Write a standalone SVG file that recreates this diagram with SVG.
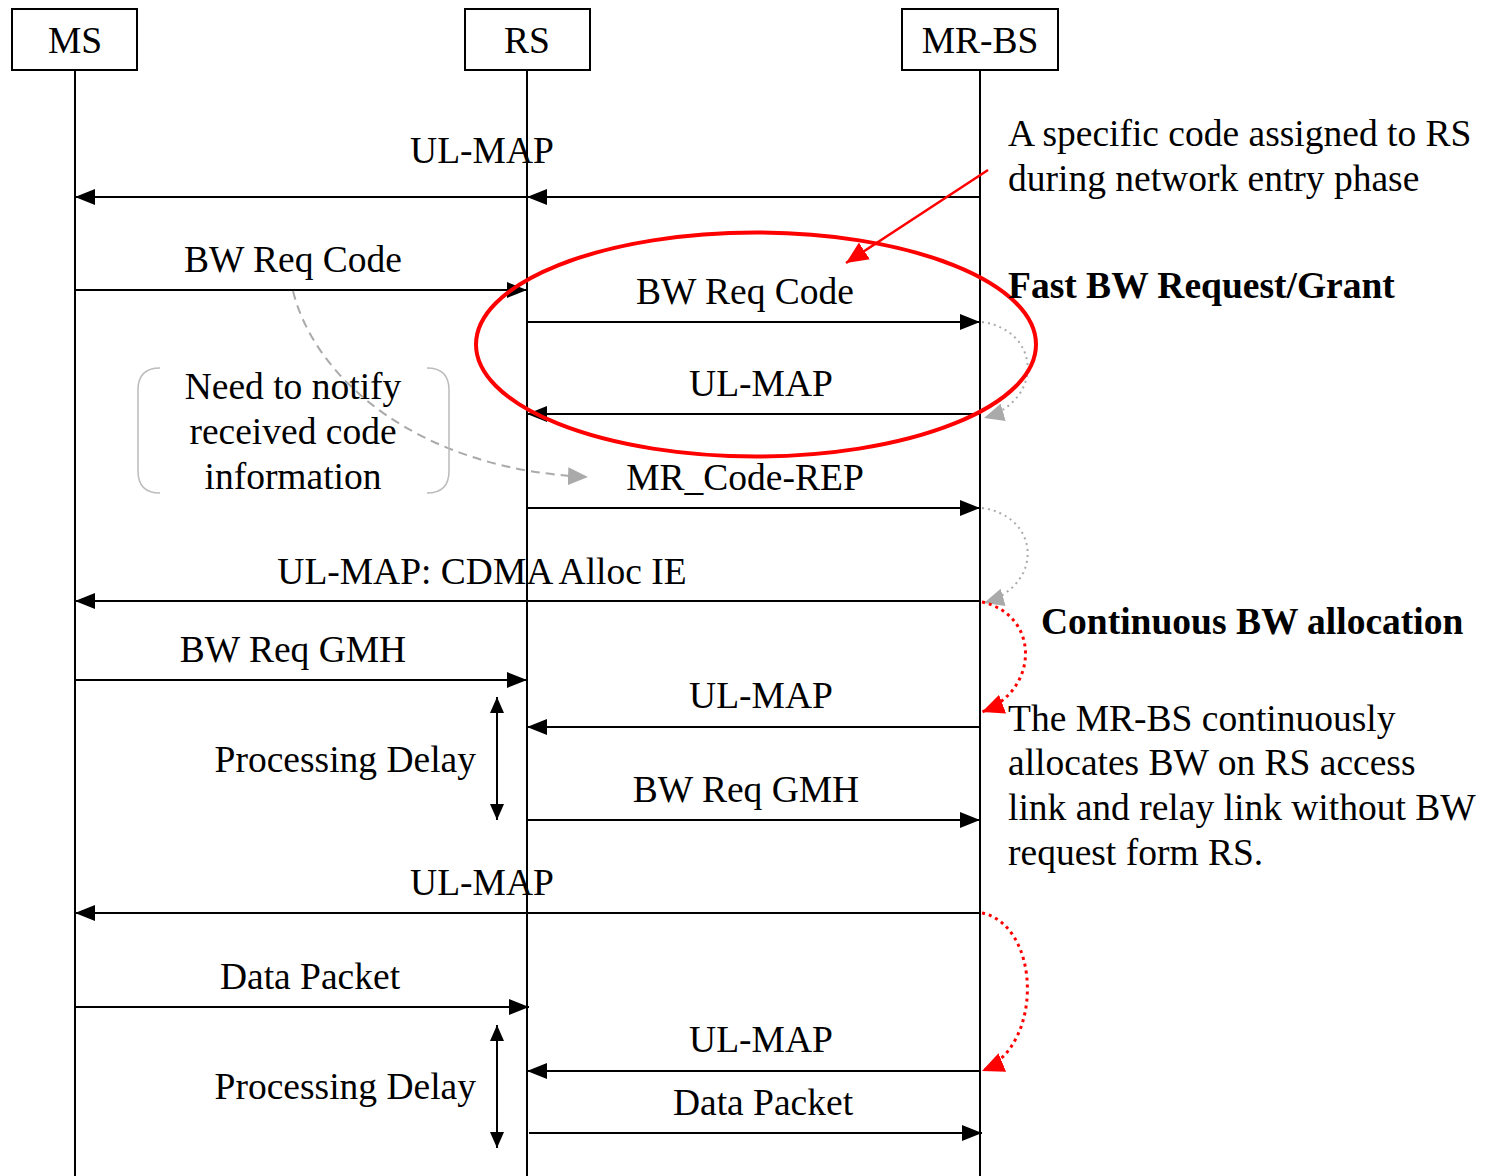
<svg xmlns="http://www.w3.org/2000/svg" width="1487" height="1176" viewBox="0 0 1487 1176">
<style>
text{font-family:"Liberation Serif","Times New Roman",serif;font-size:37.5px;fill:#000}
.c{text-anchor:middle}
.b{font-weight:bold}
.box{fill:#fff;stroke:#000;stroke-width:2}
.life{stroke:#000;stroke-width:2;fill:none}
.msg{stroke:#000;stroke-width:2;fill:none;marker-end:url(#ah)}
.gd{stroke:#aaa;stroke-width:2;fill:none;stroke-dasharray:2 4;marker-end:url(#gh)}
.rd{stroke:#f00;stroke-width:3;fill:none;stroke-dasharray:3 4;marker-end:url(#rh)}
</style>
<defs>
<marker id="ah" markerUnits="userSpaceOnUse" markerWidth="22" markerHeight="16" refX="20" refY="8" orient="auto"><path d="M0,0 L20,8 L0,16 Z" fill="#000"/></marker>
<marker id="gh" markerUnits="userSpaceOnUse" markerWidth="22" markerHeight="18" refX="20" refY="9" orient="auto"><path d="M0,0 L20,9 L0,18 Z" fill="#aaa"/></marker>
<marker id="rh" markerUnits="userSpaceOnUse" markerWidth="24" markerHeight="20" refX="22" refY="10" orient="auto"><path d="M0,0 L22,10 L0,20 Z" fill="#f00"/></marker>
<marker id="rha" markerUnits="userSpaceOnUse" markerWidth="24" markerHeight="20" refX="22" refY="10" orient="auto"><path d="M0,0 L22,10 L0,20 Z" fill="#f00"/></marker>
<marker id="dh" markerUnits="userSpaceOnUse" markerWidth="16" markerHeight="14" refX="16" refY="7" orient="auto-start-reverse"><path d="M0,0 L16,7 L0,14 Z" fill="#000"/></marker>
</defs>

<g id="node-ms">
<rect class="box" x="12" y="9" width="125" height="61"/>
<text class="c" x="75" y="53">MS</text>
</g>
<g id="node-rs">
<rect class="box" x="465" y="9" width="125" height="61"/>
<text class="c" x="527" y="53">RS</text>
</g>
<g id="node-mrbs">
<rect class="box" x="902" y="9" width="156" height="61"/>
<text class="c" x="980" y="53">MR-BS</text>
</g>

<g id="lifelines">
<line class="life" x1="75" y1="70" x2="75" y2="1176"/>
<line class="life" x1="527" y1="70" x2="527" y2="1176"/>
<line class="life" x1="980" y1="70" x2="980" y2="1176"/>
</g>

<g id="connectors">
<line class="msg" x1="980" y1="197" x2="527" y2="197"/>
<line class="msg" x1="527" y1="197" x2="75" y2="197"/>
<line class="msg" x1="75" y1="290" x2="527" y2="290"/>
<line class="msg" x1="527" y1="322" x2="980" y2="322"/>
<line class="msg" x1="980" y1="414" x2="527" y2="414"/>
<line class="msg" x1="527" y1="508" x2="980" y2="508"/>
<line class="msg" x1="980" y1="601" x2="75" y2="601"/>
<line class="msg" x1="75" y1="680" x2="527" y2="680"/>
<line class="msg" x1="980" y1="727" x2="527" y2="727"/>
<line class="msg" x1="527" y1="820" x2="980" y2="820"/>
<line class="msg" x1="980" y1="913" x2="75" y2="913"/>
<line class="msg" x1="75" y1="1007" x2="529" y2="1007"/>
<line class="msg" x1="980" y1="1071" x2="527" y2="1071"/>
<line class="msg" x1="529" y1="1133" x2="982" y2="1133"/>
<line stroke="#000" stroke-width="2" x1="497" y1="697" x2="497" y2="820" marker-start="url(#dh)" marker-end="url(#dh)"/>
<line stroke="#000" stroke-width="2" x1="497" y1="1025" x2="497" y2="1148" marker-start="url(#dh)" marker-end="url(#dh)"/>
<path class="gd" d="M982,322 C1040,330 1045,400 984,418"/>
<path class="gd" d="M982,508 C1040,516 1045,585 984,603"/>
<path class="rd" d="M982,602 C1040,615 1040,690 982,712"/>
<path class="rd" d="M982,913 C1040,925 1045,1045 982,1071"/>
<path d="M293,291 C315,380 420,470 588,477" stroke="#aaa" stroke-width="2" fill="none" stroke-dasharray="9 6" marker-end="url(#gh)"/>
<ellipse cx="756" cy="344.5" rx="280" ry="112" fill="none" stroke="#f00" stroke-width="4"/>
<line x1="988" y1="170" x2="846" y2="263" stroke="#f00" stroke-width="2.5" marker-end="url(#rha)"/>
</g>

<g id="note-bracket">
<path d="M160,368 Q138,368 138,390 L138,471 Q138,493 160,493" fill="none" stroke="#bbb" stroke-width="1.5"/>
<path d="M427,368 Q449,368 449,390 L449,471 Q449,493 427,493" fill="none" stroke="#bbb" stroke-width="1.5"/>
<text class="c" x="293" y="399">Need to notify</text>
<text class="c" x="293" y="444">received code</text>
<text class="c" x="293" y="489">information</text>
</g>

<g id="labels">
<text class="c" x="482" y="163">UL-MAP</text>
<text class="c" x="293" y="272">BW Req Code</text>
<text class="c" x="745" y="304">BW Req Code</text>
<text class="c" x="761" y="396">UL-MAP</text>
<text class="c" x="745" y="490">MR_Code-REP</text>
<text class="c" x="482" y="584">UL-MAP: CDMA Alloc IE</text>
<text class="c" x="293" y="662">BW Req GMH</text>
<text class="c" x="761" y="708">UL-MAP</text>
<text class="c" x="746" y="802">BW Req GMH</text>
<text class="c" x="482" y="895">UL-MAP</text>
<text class="c" x="310" y="989">Data Packet</text>
<text class="c" x="761" y="1052">UL-MAP</text>
<text class="c" x="763" y="1115">Data Packet</text>
<text x="476" y="772" text-anchor="end">Processing Delay</text>
<text x="476" y="1099" text-anchor="end">Processing Delay</text>
</g>

<g id="notes">
<text x="1008" y="146">A specific code assigned to RS</text>
<text x="1008" y="191">during network entry phase</text>
<text class="b" x="1008" y="298">Fast BW Request/Grant</text>
<text class="b" x="1041" y="634">Continuous BW allocation</text>
<text x="1008" y="731">The MR-BS continuously</text>
<text x="1008" y="775">allocates BW on RS access</text>
<text x="1008" y="820">link and relay link without BW</text>
<text x="1008" y="865">request form RS.</text>
</g>
</svg>
